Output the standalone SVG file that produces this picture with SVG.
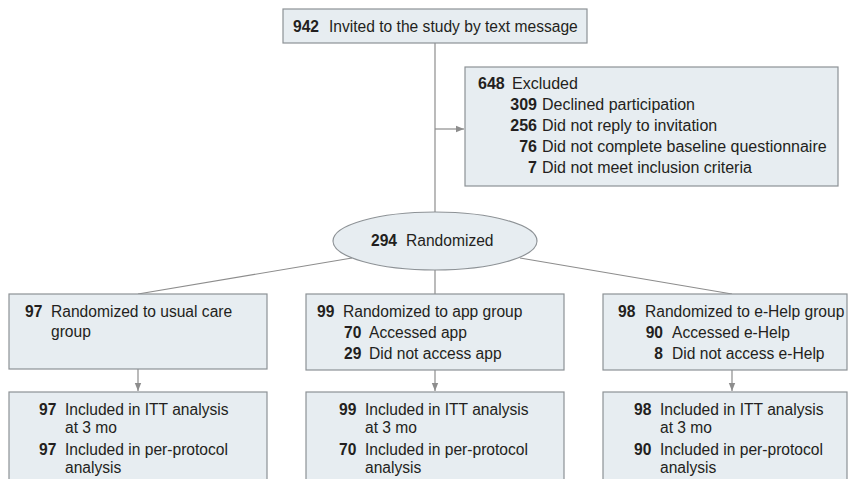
<svg xmlns="http://www.w3.org/2000/svg" width="848" height="479" viewBox="0 0 848 479">
<style>
.box{fill:#e7edf1;stroke:#8d9296;stroke-width:1.2}
.ln{stroke:#8d8d8d;stroke-width:1.2;fill:none}
text{font-family:"Liberation Sans",Arial,sans-serif;font-size:15.6px;fill:#231f20}
.b{font-weight:bold}
.e{text-anchor:end}
.x{font-size:16px}
</style>
<defs>
<marker id="ah" viewBox="0 0 10 10" refX="10" refY="5" markerWidth="8" markerHeight="8" markerUnits="userSpaceOnUse" orient="auto">
<path d="M0,1 L10,5 L0,9 z" fill="#8d8d8d"/>
</marker>
</defs>
<g id="connectors">
<line class="ln" x1="435" y1="43" x2="435" y2="212"/>
<line class="ln" x1="435" y1="129" x2="464" y2="129" marker-end="url(#ah)"/>
<line class="ln" x1="352" y1="258" x2="138" y2="294"/>
<line class="ln" x1="435" y1="270" x2="435" y2="294"/>
<line class="ln" x1="520" y1="258" x2="732" y2="294"/>
<line class="ln" x1="138" y1="369" x2="138" y2="391" marker-end="url(#ah)"/>
<line class="ln" x1="435" y1="370" x2="435" y2="391" marker-end="url(#ah)"/>
<line class="ln" x1="732" y1="370" x2="732" y2="391" marker-end="url(#ah)"/>
</g>
<g id="invited">
<rect class="box" x="283" y="9" width="304" height="34"/>
<text y="32"><tspan class="b" x="293">942</tspan><tspan x="329">Invited to the study by text message</tspan></text>
</g>
<g id="excluded">
<rect class="box" x="465" y="67" width="373" height="119"/>
<text class="x" y="89"><tspan class="b" x="478">648</tspan><tspan x="512">Excluded</tspan></text>
<text class="x" y="110"><tspan class="b e" x="537">309</tspan><tspan x="542">Declined participation</tspan></text>
<text class="x" y="131"><tspan class="b e" x="537">256</tspan><tspan x="542">Did not reply to invitation</tspan></text>
<text class="x" y="152"><tspan class="b e" x="537">76</tspan><tspan x="542">Did not complete baseline questionnaire</tspan></text>
<text class="x" y="173"><tspan class="b e" x="537">7</tspan><tspan x="542">Did not meet inclusion criteria</tspan></text>
</g>
<g id="randomized">
<ellipse class="box" cx="435" cy="241" rx="102" ry="29"/>
<text y="246"><tspan class="b" x="371">294</tspan><tspan x="406">Randomized</tspan></text>
</g>
<g id="usual-care">
<rect class="box" x="9" y="294" width="258" height="75"/>
<text y="317"><tspan class="b" x="25">97</tspan><tspan x="51">Randomized to usual care</tspan></text>
<text x="51" y="337">group</text>
</g>
<g id="app">
<rect class="box" x="306" y="294" width="258" height="76"/>
<text y="317"><tspan class="b" x="317">99</tspan><tspan x="343">Randomized to app group</tspan></text>
<text y="338"><tspan class="b" x="344">70</tspan><tspan x="369">Accessed app</tspan></text>
<text y="359"><tspan class="b" x="344">29</tspan><tspan x="369">Did not access app</tspan></text>
</g>
<g id="ehelp">
<rect class="box" x="603" y="294" width="244" height="76"/>
<text y="317"><tspan class="b" x="618">98</tspan><tspan x="645">Randomized to e-Help group</tspan></text>
<text y="338"><tspan class="b e" x="663">90</tspan><tspan x="672">Accessed e-Help</tspan></text>
<text y="359"><tspan class="b e" x="663">8</tspan><tspan x="672">Did not access e-Help</tspan></text>
</g>
<g id="usual-care-analysis">
<rect class="box" x="9" y="392" width="258" height="100"/>
<text y="415"><tspan class="b" x="39">97</tspan><tspan x="65">Included in ITT analysis</tspan></text>
<text x="65" y="433">at 3 mo</text>
<text y="455"><tspan class="b" x="39">97</tspan><tspan x="65">Included in per-protocol</tspan></text>
<text x="65" y="473">analysis</text>
</g>
<g id="app-analysis">
<rect class="box" x="306" y="392" width="258" height="100"/>
<text y="415"><tspan class="b" x="339">99</tspan><tspan x="365">Included in ITT analysis</tspan></text>
<text x="365" y="433">at 3 mo</text>
<text y="455"><tspan class="b" x="339">70</tspan><tspan x="365">Included in per-protocol</tspan></text>
<text x="365" y="473">analysis</text>
</g>
<g id="ehelp-analysis">
<rect class="box" x="603" y="392" width="244" height="100"/>
<text y="415"><tspan class="b" x="634">98</tspan><tspan x="660">Included in ITT analysis</tspan></text>
<text x="660" y="433">at 3 mo</text>
<text y="455"><tspan class="b" x="634">90</tspan><tspan x="660">Included in per-protocol</tspan></text>
<text x="660" y="473">analysis</text>
</g>
</svg>
